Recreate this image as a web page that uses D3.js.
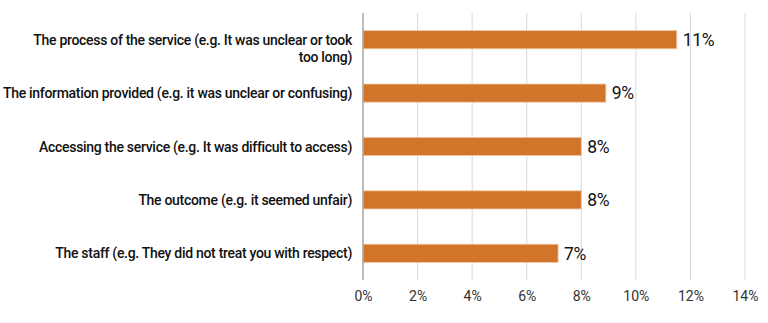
<!DOCTYPE html>
<html><head><meta charset="utf-8">
<script src="https://cdn.jsdelivr.net/npm/d3@7"></script>
<style>body{margin:0;background:#fff;} svg{display:block;font-family:Roboto, Inter, sans-serif;}</style>
</head><body>
<svg id="c" width="768" height="323"></svg>
<script>
const categories = [
  ["The process of the service (e.g. It was unclear or took", "too long)"],
  ["The information provided (e.g. it was unclear or confusing)"],
  ["Accessing the service (e.g. It was difficult to access)"],
  ["The outcome (e.g. it seemed unfair)"],
  ["The staff (e.g. They did not treat you with respect)"]
];
const values = [11.5, 8.9, 8.0, 8.0, 7.15];
const valueLabels = ["11%", "9%", "8%", "8%", "7%"];
const ticks = [0, 2, 4, 6, 8, 10, 12, 14];

const svg = d3.select("#c");
const m = {left: 363, right: 23, top: 13, bottom: 43};
const W = 768, H = 323;
const x = d3.scaleLinear().domain([0, 14]).range([m.left, W - m.right]);
const y = d3.scaleBand().domain(d3.range(categories.length)).range([m.top, H - m.bottom]).paddingInner(0.66).paddingOuter(0.33);

svg.append("g").selectAll("line").data(ticks.slice(1)).join("line")
  .attr("x1", d => x(d)).attr("x2", d => x(d))
  .attr("y1", m.top).attr("y2", H - m.bottom)
  .attr("stroke", "#d9d9d9").attr("stroke-width", 1);

const xAxis = d3.axisBottom(x).tickValues(ticks).tickFormat(d => d + "%").tickSize(0).tickPadding(11);
const gx = svg.append("g").attr("transform", `translate(0,${H - m.bottom})`).call(xAxis);
gx.select(".domain").remove();
gx.selectAll("text").attr("font-size", 14).attr("fill", "#333").attr("font-family", "Roboto, sans-serif");

svg.append("g").selectAll("rect").data(values).join("rect")
  .attr("x", x(0)).attr("y", (d, i) => y(i))
  .attr("width", d => x(d) - x(0)).attr("height", y.bandwidth())
  .attr("fill", "#D1752B").attr("stroke", "#EFC8A4").attr("stroke-width", 0.8);

svg.append("line").attr("x1", x(0)).attr("x2", x(0)).attr("y1", m.top).attr("y2", H - m.bottom)
  .attr("stroke", "#a6a6a6").attr("stroke-width", 1.5);

svg.append("g").selectAll("text").data(values).join("text")
  .attr("x", d => x(d) + 6).attr("y", (d, i) => y(i) + y.bandwidth() / 2)
  .attr("dy", "0.36em").attr("font-size", 17.5).attr("font-weight", 400).attr("fill", "#111")
  .attr("letter-spacing", "-0.3px")
  .text((d, i) => valueLabels[i]);

const lab = svg.append("g").selectAll("text").data(categories).join("text")
  .attr("x", 352).attr("y", (d, i) => y(i) + y.bandwidth() / 2)
  .attr("text-anchor", "end").attr("font-size", 14).attr("font-weight", 500).attr("fill", "#111")
  .attr("letter-spacing", "-0.3px");
lab.selectAll("tspan").data(d => d).join("tspan")
  .attr("x", 352).attr("dy", (d, j) => j === 0 ? "0.36em" : "1.2em").text(d => d);
</script>
</body></html>
